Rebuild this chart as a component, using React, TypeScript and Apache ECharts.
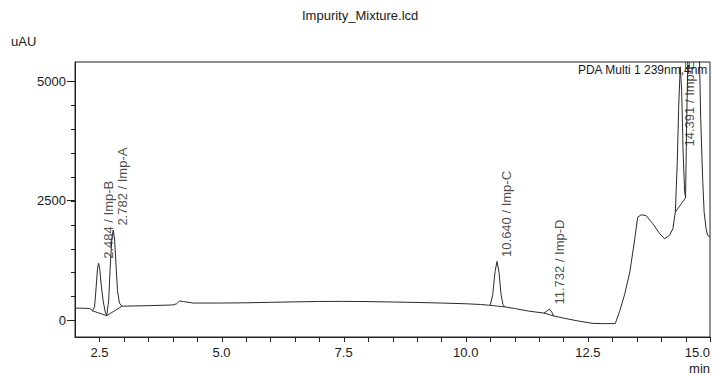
import React, { useEffect, useRef } from "react";
import * as echarts from "echarts";

// Chromatogram trace (retention time in min, signal in uAU)
const timeMin = [
  2.0, 2.1, 2.2, 2.3, 2.33, 2.36, 2.4, 2.43, 2.46, 2.484, 2.51, 2.54, 2.58, 2.62, 2.65,
  2.69, 2.72, 2.755, 2.782, 2.81, 2.84, 2.87, 2.91, 2.96, 3.0, 3.5, 4.0, 4.08, 4.14, 4.22,
  4.42, 5.0, 5.5, 6.0, 6.5, 7.0, 7.5, 8.0, 8.5, 9.0, 9.5, 10.0, 10.3, 10.5, 10.55, 10.6,
  10.64, 10.68, 10.72, 10.76, 10.8, 11.0, 11.3, 11.6, 11.66, 11.71, 11.76, 11.8, 11.9, 12.0,
  12.3, 12.6, 12.8, 13.06, 13.15, 13.25, 13.36, 13.46, 13.52, 13.59, 13.69, 13.83, 13.97,
  14.07, 14.17, 14.24, 14.29, 14.33, 14.36, 14.391, 14.42, 14.45, 14.48, 14.5, 14.52, 14.55,
  14.62, 14.72, 14.78, 14.81, 14.85, 14.88, 14.92, 14.95, 15.0,
];
const signalUAU = [
  255, 252, 250, 245, 225, 200, 280, 650, 1080, 1190, 1040, 700, 380, 170, 96,
  420, 1100, 1720, 1885, 1700, 1150, 620, 360, 292, 295, 305, 320, 345, 405, 390,
  360, 360, 365, 375, 385, 393, 395, 390, 382, 372, 360, 345, 330, 312, 520, 1020,
  1230, 1000, 560, 330, 280, 245, 190, 150, 190, 235, 170, 90, 68, 45,
  -15, -65, -70, -70, 187, 531, 1016, 1706, 2156, 2204, 2190, 2017, 1810,
  1706, 1775, 1913, 2260, 3300, 4500, 5300, 4800, 3500, 2700, 2560, 4000, 5600,
  6700, 6700, 5700, 4200, 2950, 2260, 1913, 1775, 1745,
];

// Integration baselines
const baseStartT = [2.35, 2.65, 10.5, 11.6, 14.29];
const baseStartV = [200, 96, 312, 150, 2260];
const baseEndT = [2.65, 2.96, 10.8, 11.8, 14.5];
const baseEndV = [96, 292, 280, 90, 2560];

// Peak annotations
const peakTimes = [2.484, 2.782, 10.64, 11.732, 14.391];
const peakHeights = [1190, 1885, 1230, 235, 5300];
const peakNames = ["Imp-B", "Imp-A", "Imp-C", "Imp-D", "Imp-E"];

const xLabelTicks = [2.5, 5.0, 7.5, 10.0, 12.5, 15.0];
const xTickValues = [
  2.5, 3.0, 3.5, 4.0, 4.5, 5.0, 5.5, 6.0, 6.5, 7.0, 7.5, 8.0, 8.5,
  9.0, 9.5, 10.0, 10.5, 11.0, 11.5, 12.0, 12.5, 13.0, 13.5, 14.0, 14.5, 15.0,
];
const yLabelTicks = [0, 2500, 5000];
const yMinorTicks = [0, 500, 1000, 1500, 2000, 2500, 3000, 3500, 4000, 4500, 5000];

const FONT = "'Liberation Sans', Arial, sans-serif";
const INK = "#1a1a1a";
const AXIS = "#222";
const LABEL_TOP = 3540;
const Y_MIN = -350;
const Y_MAX = 5400;
const X_MIN = 2.0;
const X_MAX = 15.0;
const MINOR_TICK_LEN = 4;
const X_TICK_LEN = 5;

export default function App() {
  const ref = useRef<HTMLDivElement>(null);

  useEffect(() => {
    if (!ref.current) return;
    const chart = echarts.init(ref.current, undefined, { renderer: "svg" });

    const baselineSeries = baseStartT.map((t, i) => ({
      type: "line",
      data: [
        [t, baseStartV[i]],
        [baseEndT[i], baseEndV[i]],
      ],
      showSymbol: false,
      lineStyle: { color: "#333", width: 1 },
      silent: true,
      z: 2,
    }));

    chart.setOption({
      animation: false,
      backgroundColor: "#fff",
      textStyle: { fontFamily: FONT, color: INK },
      grid: {
        left: 75,
        right: 2,
        top: 62,
        bottom: 37,
        show: true,
        borderColor: AXIS,
        borderWidth: 1,
        backgroundColor: "transparent",
      },
      graphic: [
        {
          type: "text",
          left: 302,
          top: 9,
          style: { text: "Impurity_Mixture.lcd", font: `13px ${FONT}`, fill: INK },
        },
        {
          type: "text",
          left: 11,
          top: 35,
          style: { text: "uAU", font: `13px ${FONT}`, fill: INK },
        },
        {
          type: "text",
          right: 5,
          top: 64,
          z: 10,
          style: { text: "PDA Multi 1 239nm,4nm", font: `12px ${FONT}`, fill: INK },
        },
      ],
      xAxis: {
        type: "value",
        min: X_MIN,
        max: X_MAX,
        interval: 0.5,
        splitLine: { show: false },
        axisLine: { show: true, onZero: false, lineStyle: { color: AXIS, width: 1 } },
        axisTick: { show: false },
        axisLabel: {
          customValues: xLabelTicks,
          formatter: (v: number) => (v === 15 ? "15.0\nmin" : v.toFixed(1)),
          fontSize: 13,
          fontFamily: FONT,
          color: INK,
          margin: 7,
          lineHeight: 16,
          alignMaxLabel: "right",
        },
      },
      yAxis: {
        type: "value",
        min: Y_MIN,
        max: Y_MAX,
        splitLine: { show: false },
        axisLine: { show: true, onZero: false, lineStyle: { color: AXIS, width: 1 } },
        axisTick: { show: true, length: 8, customValues: yLabelTicks, lineStyle: { color: AXIS } },
        axisLabel: {
          customValues: yLabelTicks,
          formatter: (v: number) => String(v),
          fontSize: 13,
          fontFamily: FONT,
          color: INK,
          margin: 9,
        },
      },
      series: [
        {
          type: "line",
          data: timeMin.map((t, i) => [t, signalUAU[i]]),
          showSymbol: false,
          lineStyle: { color: "#2a2a2a", width: 1 },
          clip: true,
          z: 3,
        },
        ...baselineSeries,
        {
          // minor ticks on the y axis, placed via the axis scale
          type: "custom",
          data: yMinorTicks.map((v) => [X_MIN, v]),
          clip: false,
          silent: true,
          z: 4,
          renderItem: (_params: any, api: any) => {
            const p = api.coord([api.value(0), api.value(1)]);
            const x = Math.round(p[0]);
            const y = Math.round(p[1]) + 0.5;
            return {
              type: "line",
              shape: { x1: x - MINOR_TICK_LEN, y1: y, x2: x, y2: y },
              style: { stroke: AXIS, lineWidth: 1 },
            };
          },
        },
        {
          // ticks every 0.5 min on the x axis, placed via the axis scale
          type: "custom",
          data: xTickValues.map((t) => [t, Y_MIN]),
          clip: false,
          silent: true,
          z: 4,
          renderItem: (_params: any, api: any) => {
            const p = api.coord([api.value(0), api.value(1)]);
            const x = Math.round(p[0]) + 0.5;
            const y = Math.round(p[1]);
            return {
              type: "line",
              shape: { x1: x, y1: y, x2: x, y2: y + X_TICK_LEN },
              style: { stroke: AXIS, lineWidth: 1 },
            };
          },
        },
        {
          type: "scatter",
          data: peakTimes.map((t, i) => [t, Math.min(peakHeights[i], LABEL_TOP)]),
          symbolSize: 1,
          itemStyle: { color: "transparent" },
          silent: true,
          z: 5,
          label: {
            show: true,
            rotate: 90,
            position: [10, -4],
            align: "left",
            verticalAlign: "middle",
            fontSize: 13,
            fontFamily: FONT,
            color: INK,
            formatter: (p: any) =>
              `${peakTimes[p.dataIndex].toFixed(3)} / ${peakNames[p.dataIndex]}`,
          },
        },
      ],
    });

    return () => chart.dispose();
  }, []);

  return (
    <div
      ref={ref}
      style={{ position: "fixed", left: 0, top: 0, width: 713, height: 376 }}
    />
  );
}
